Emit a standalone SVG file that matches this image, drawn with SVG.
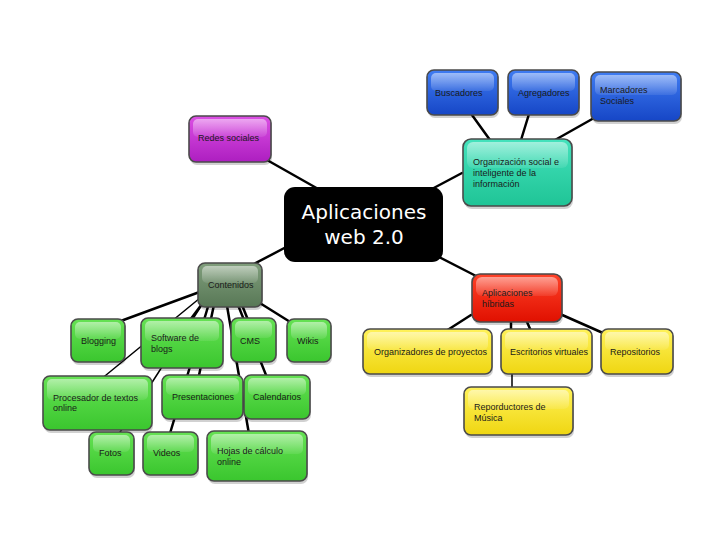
<svg xmlns="http://www.w3.org/2000/svg" width="728" height="546" viewBox="0 0 728 546">
<defs>
<linearGradient id="gBlue" x1="0" y1="0" x2="0" y2="1"><stop offset="0" stop-color="#3f7cf2"/><stop offset="1" stop-color="#1646c6"/></linearGradient>
<linearGradient id="gTeal" x1="0" y1="0" x2="0" y2="1"><stop offset="0" stop-color="#44e2bc"/><stop offset="1" stop-color="#1fc496"/></linearGradient>
<linearGradient id="gPurple" x1="0" y1="0" x2="0" y2="1"><stop offset="0" stop-color="#dc50e4"/><stop offset="1" stop-color="#ad1ec0"/></linearGradient>
<linearGradient id="gGray" x1="0" y1="0" x2="0" y2="1"><stop offset="0" stop-color="#809e7c"/><stop offset="1" stop-color="#587856"/></linearGradient>
<linearGradient id="gGreen" x1="0" y1="0" x2="0" y2="1"><stop offset="0" stop-color="#66e254"/><stop offset="1" stop-color="#3ac62e"/></linearGradient>
<linearGradient id="gRed" x1="0" y1="0" x2="0" y2="1"><stop offset="0" stop-color="#ff4228"/><stop offset="1" stop-color="#e01000"/></linearGradient>
<linearGradient id="gYellow" x1="0" y1="0" x2="0" y2="1"><stop offset="0" stop-color="#fff25a"/><stop offset="1" stop-color="#efd612"/></linearGradient>
<linearGradient id="gGloss" x1="0" y1="0" x2="0" y2="1"><stop offset="0" stop-color="#ffffff" stop-opacity="0.5"/><stop offset="1" stop-color="#ffffff" stop-opacity="0.08"/></linearGradient>
</defs>
<style>
.bg{fill:#ffffff}
.shadow{fill:#000;opacity:0.18}
.box{stroke:#4a4a4a;stroke-width:1.6}
.gloss{fill:url(#gGloss)}
.t{font-family:"Liberation Sans",Arial,sans-serif;font-size:9px;fill:#1a1a1a}
.c{font-family:"DejaVu Sans",sans-serif;font-size:20px;fill:#ffffff;text-anchor:middle}
.lk{stroke:#000;stroke-width:2.5;fill:none;stroke-linecap:round}
.thin{stroke-width:1.5}
.blue{fill:url(#gBlue)} .teal{fill:url(#gTeal)} .purple{fill:url(#gPurple)} .gray{fill:url(#gGray)}
.green{fill:url(#gGreen)} .red{fill:url(#gRed)} .yellow{fill:url(#gYellow)}
</style>
<rect class="bg" x="0" y="0" width="728" height="546"/>
<g id="connectors">
<line class="lk" x1="267" y1="160" x2="320" y2="190"/>
<line class="lk" x1="462" y1="173" x2="430" y2="190"/>
<line class="lk" x1="254" y1="264" x2="290" y2="245"/>
<line class="lk" x1="435" y1="255" x2="478" y2="277"/>
<line class="lk" x1="472" y1="115" x2="490" y2="140"/>
<line class="lk" x1="529" y1="114" x2="521" y2="140"/>
<line class="lk" x1="594" y1="118" x2="555" y2="140"/>
<line class="lk" x1="471" y1="315" x2="446" y2="331"/>
<line class="lk" x1="511" y1="322" x2="511" y2="331"/>
<line class="lk" x1="527" y1="322" x2="531" y2="331"/>
<line class="lk" x1="560" y1="314" x2="603" y2="333"/>
<line class="lk thin" x1="512" y1="374" x2="512" y2="388"/>
<line class="lk" x1="205" y1="290" x2="118" y2="322"/>
<line class="lk" x1="255" y1="300" x2="295" y2="325"/>
<line class="lk" x1="205" y1="300" x2="190" y2="320"/>
<line class="lk thin" x1="200" y1="298" x2="100" y2="380"/>
<line class="lk thin" x1="205" y1="300" x2="115" y2="440"/>
<line class="lk" x1="210" y1="300" x2="168" y2="440"/>
<line class="lk" x1="215" y1="300" x2="198" y2="380"/>
<line class="lk" x1="226" y1="300" x2="250" y2="440"/>
<line class="lk" x1="236" y1="300" x2="268" y2="380"/>
<line class="lk" x1="240" y1="300" x2="250" y2="325"/>
</g>
<g id="center">
<rect x="284" y="187" width="159" height="75" rx="11" fill="#000"/>
<text class="c" x="364" y="219">Aplicaciones</text>
<text class="c" x="364" y="244">web 2.0</text>
</g>
<g id="buscadores">
<rect class="shadow" x="428" y="72" width="71" height="46" rx="7"/>
<rect class="box blue" x="427" y="70" width="71" height="45" rx="7"/>
<rect class="gloss" x="431" y="73" width="63" height="18" rx="5"/>
<text class="t" x="435" y="96">Buscadores</text>
</g>
<g id="agregadores">
<rect class="shadow" x="509" y="72" width="71" height="46" rx="7"/>
<rect class="box blue" x="508" y="70" width="71" height="45" rx="7"/>
<rect class="gloss" x="512" y="73" width="63" height="18" rx="5"/>
<text class="t" x="518" y="96">Agregadores</text>
</g>
<g id="marcadores">
<rect class="shadow" x="592" y="74" width="90" height="50" rx="7"/>
<rect class="box blue" x="591" y="72" width="90" height="49" rx="7"/>
<rect class="gloss" x="595" y="75" width="82" height="20" rx="5"/>
<text class="t" x="600" y="93">Marcadores</text>
<text class="t" x="600" y="104">Sociales</text>
</g>
<g id="organizacion">
<rect class="shadow" x="464" y="141" width="109" height="68" rx="8"/>
<rect class="box teal" x="463" y="139" width="109" height="67" rx="8"/>
<rect class="gloss" x="467" y="142" width="101" height="26" rx="6"/>
<text class="t" x="473" y="165">Organización social e</text>
<text class="t" x="473" y="176">inteligente de la</text>
<text class="t" x="473" y="187">información</text>
</g>
<g id="redes">
<rect class="shadow" x="190" y="118" width="82" height="47" rx="7"/>
<rect class="box purple" x="189" y="116" width="82" height="46" rx="7"/>
<rect class="gloss" x="193" y="119" width="74" height="18" rx="5"/>
<text class="t" x="198" y="141">Redes sociales</text>
</g>
<g id="contenidos">
<rect class="shadow" x="199" y="265" width="64" height="45" rx="7"/>
<rect class="box gray" x="198" y="263" width="64" height="44" rx="7"/>
<rect class="gloss" x="202" y="266" width="56" height="17" rx="5"/>
<text class="t" x="208" y="288">Contenidos</text>
</g>
<g id="hibridas">
<rect class="shadow" x="473" y="276" width="90" height="49" rx="8"/>
<rect class="box red" x="472" y="274" width="90" height="48" rx="8"/>
<rect class="gloss" x="476" y="277" width="82" height="19" rx="6"/>
<text class="t" x="482" y="296">Aplicaciones</text>
<text class="t" x="482" y="307">híbridas</text>
</g>
<g id="organizadores">
<rect class="shadow" x="364" y="331" width="129" height="46" rx="7"/>
<rect class="box yellow" x="363" y="329" width="129" height="45" rx="7"/>
<rect class="gloss" x="367" y="332" width="121" height="18" rx="5"/>
<text class="t" x="374" y="355">Organizadores de proyectos</text>
</g>
<g id="escritorios">
<rect class="shadow" x="502" y="331" width="91" height="46" rx="7"/>
<rect class="box yellow" x="501" y="329" width="91" height="45" rx="7"/>
<rect class="gloss" x="505" y="332" width="83" height="18" rx="5"/>
<text class="t" x="510" y="355">Escritorios virtuales</text>
</g>
<g id="repositorios">
<rect class="shadow" x="602" y="331" width="72" height="46" rx="7"/>
<rect class="box yellow" x="601" y="329" width="72" height="45" rx="7"/>
<rect class="gloss" x="605" y="332" width="64" height="18" rx="5"/>
<text class="t" x="610" y="355">Repositorios</text>
</g>
<g id="reporductores">
<rect class="shadow" x="465" y="389" width="109" height="49" rx="7"/>
<rect class="box yellow" x="464" y="387" width="109" height="48" rx="7"/>
<rect class="gloss" x="468" y="390" width="101" height="19" rx="5"/>
<text class="t" x="474" y="410">Reporductores de</text>
<text class="t" x="474" y="421">Música</text>
</g>
<g id="blogging">
<rect class="shadow" x="72" y="321" width="54" height="44" rx="7"/>
<rect class="box green" x="71" y="319" width="54" height="43" rx="7"/>
<rect class="gloss" x="75" y="322" width="46" height="17" rx="5"/>
<text class="t" x="81" y="344">Blogging</text>
</g>
<g id="software">
<rect class="shadow" x="142" y="320" width="82" height="51" rx="7"/>
<rect class="box green" x="141" y="318" width="82" height="50" rx="7"/>
<rect class="gloss" x="145" y="321" width="74" height="20" rx="5"/>
<text class="t" x="151" y="341">Software de</text>
<text class="t" x="151" y="352">blogs</text>
</g>
<g id="cms">
<rect class="shadow" x="232" y="320" width="45" height="45" rx="7"/>
<rect class="box green" x="231" y="318" width="45" height="44" rx="7"/>
<rect class="gloss" x="235" y="321" width="37" height="17" rx="5"/>
<text class="t" x="240" y="344">CMS</text>
</g>
<g id="wikis">
<rect class="shadow" x="288" y="321" width="44" height="44" rx="7"/>
<rect class="box green" x="287" y="319" width="44" height="43" rx="7"/>
<rect class="gloss" x="291" y="322" width="36" height="17" rx="5"/>
<text class="t" x="297" y="344">Wikis</text>
</g>
<g id="procesador">
<rect class="shadow" x="44" y="378" width="109" height="55" rx="7"/>
<rect class="box green" x="43" y="376" width="109" height="54" rx="7"/>
<rect class="gloss" x="47" y="379" width="101" height="21" rx="5"/>
<text class="t" x="53" y="401">Procesador de textos</text>
<text class="t" x="53" y="411">online</text>
</g>
<g id="presentaciones">
<rect class="shadow" x="163" y="377" width="81" height="45" rx="7"/>
<rect class="box green" x="162" y="375" width="81" height="44" rx="7"/>
<rect class="gloss" x="166" y="378" width="73" height="17" rx="5"/>
<text class="t" x="172" y="400">Presentaciones</text>
</g>
<g id="calendarios">
<rect class="shadow" x="245" y="377" width="66" height="45" rx="7"/>
<rect class="box green" x="244" y="375" width="66" height="44" rx="7"/>
<rect class="gloss" x="248" y="378" width="58" height="17" rx="5"/>
<text class="t" x="253" y="400">Calendarios</text>
</g>
<g id="fotos">
<rect class="shadow" x="90" y="434" width="45" height="44" rx="7"/>
<rect class="box green" x="89" y="432" width="45" height="43" rx="7"/>
<rect class="gloss" x="93" y="435" width="37" height="17" rx="5"/>
<text class="t" x="99" y="456">Fotos</text>
</g>
<g id="videos">
<rect class="shadow" x="144" y="434" width="55" height="44" rx="7"/>
<rect class="box green" x="143" y="432" width="55" height="43" rx="7"/>
<rect class="gloss" x="147" y="435" width="47" height="17" rx="5"/>
<text class="t" x="153" y="456">Videos</text>
</g>
<g id="hojas">
<rect class="shadow" x="208" y="433" width="100" height="51" rx="7"/>
<rect class="box green" x="207" y="431" width="100" height="50" rx="7"/>
<rect class="gloss" x="211" y="434" width="92" height="20" rx="5"/>
<text class="t" x="217" y="454">Hojas de cálculo</text>
<text class="t" x="217" y="465">online</text>
</g>
</svg>
